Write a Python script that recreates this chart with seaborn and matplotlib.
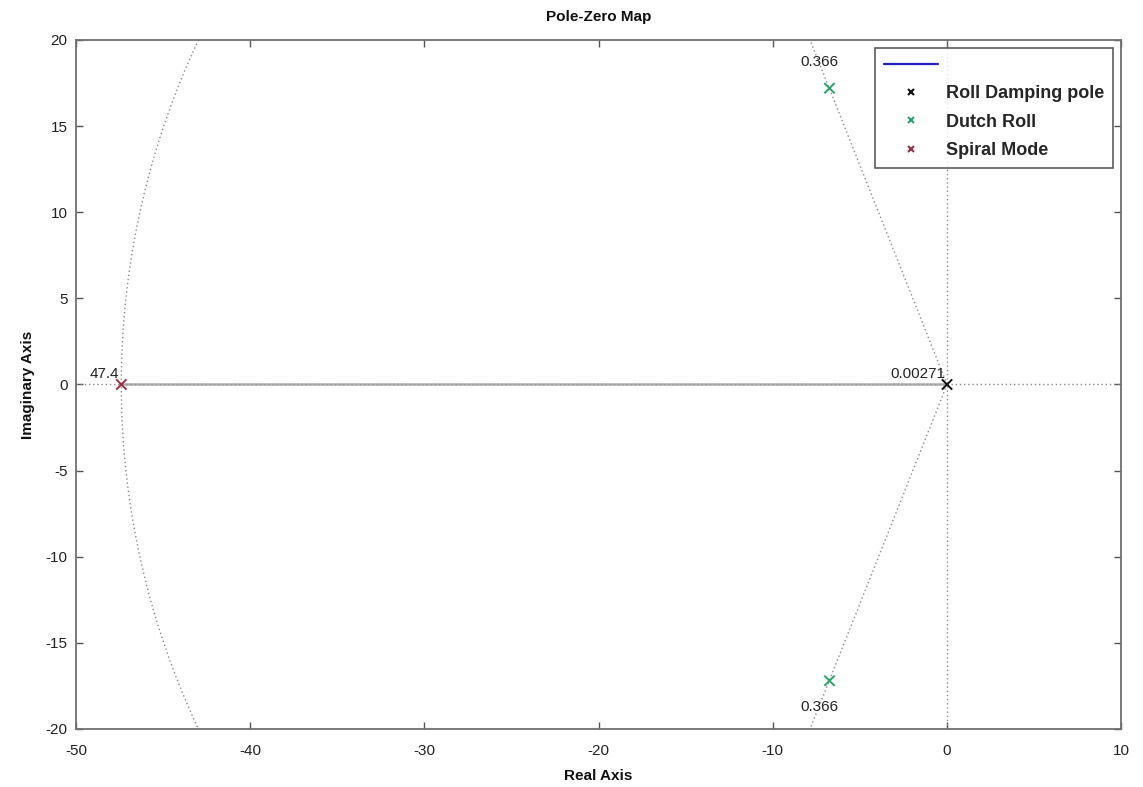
import numpy as np
import pandas as pd
import matplotlib
matplotlib.use("Agg")
import matplotlib.pyplot as plt
from matplotlib.lines import Line2D
import seaborn as sns

# Lateral-directional poles
mode_names = ["Roll Damping pole", "Dutch Roll", "Dutch Roll", "Spiral Mode"]
pole_real = [-0.00271, -6.75, -6.75, -47.4]
pole_imag = [0.0, 17.2, -17.2, 0.0]
mode_colors = {"Roll Damping pole": "#111111",
               "Dutch Roll": "#2aa56a",
               "Spiral Mode": "#9a3048"}

# s-plane grid values
damping_ratio = 0.366
natural_freqs = [47.4, 0.00271]
x_ticks = [-50, -40, -30, -20, -10, 0, 10]
y_ticks = [-20, -15, -10, -5, 0, 5, 10, 15, 20]

df = pd.DataFrame({"mode": mode_names, "re": pole_real, "im": pole_imag})

sns.set_style("white")
plt.rcParams["font.family"] = ["Liberation Sans", "DejaVu Sans"]
plt.rcParams["axes.unicode_minus"] = False

fig = plt.figure(figsize=(11.43, 7.87), dpi=100)
ax = fig.add_axes([0.0665, 0.0737, 0.9145, 0.8755])

grid_kw = dict(color="#8a8a8a", linestyle=(0, (1, 2)), linewidth=1.0, zorder=1)

# constant-damping rays
theta = np.arccos(damping_ratio)
r = np.linspace(0, 80, 200)
ax.plot(-r * np.cos(theta), r * np.sin(theta), **grid_kw)
ax.plot(-r * np.cos(theta), -r * np.sin(theta), **grid_kw)

# constant natural-frequency circles (left half plane)
phi = np.linspace(np.pi / 2, 3 * np.pi / 2, 400)
for wn in natural_freqs:
    ax.plot(wn * np.cos(phi), wn * np.sin(phi), **grid_kw)

# real and imaginary axes
ax.axhline(0, **grid_kw)
ax.axvline(0, **grid_kw)
ax.plot([-natural_freqs[0], 0], [0, 0], color="#9a9a9a", linewidth=1.8,
        alpha=0.8, zorder=1)

sns.scatterplot(data=df, x="re", y="im", hue="mode", palette=mode_colors,
                marker="x", s=55, linewidth=1.4, legend=False, ax=ax, zorder=3)

# grid labels
zeta_x = -18.7 * damping_ratio / np.sqrt(1 - damping_ratio ** 2)
txt_kw = dict(fontsize=11, color="#222222")
ax.text(zeta_x, 18.7, f"{damping_ratio:g}", ha="center", va="center", **txt_kw)
ax.text(zeta_x, -18.7, f"{damping_ratio:g}", ha="center", va="center", **txt_kw)
ax.text(-natural_freqs[0] - 0.1, 0.2, f"{natural_freqs[0]:g}", ha="right",
        va="bottom", **txt_kw)
ax.text(-0.1, 0.2, f"{natural_freqs[1]:g}", ha="right", va="bottom", **txt_kw)

ax.set_xlim(x_ticks[0], x_ticks[-1])
ax.set_ylim(y_ticks[0], y_ticks[-1])
ax.set_xticks(x_ticks)
ax.set_yticks(y_ticks)
ax.tick_params(direction="in", length=5, width=1, colors="#555555",
               labelcolor="#222222", labelsize=11, top=True, right=True,
               bottom=True, left=True, pad=6)
ax.tick_params(axis="x", pad=11)
for sp in ax.spines.values():
    sp.set_color("#707070")
    sp.set_linewidth(1.3)

ax.set_title("Pole-Zero Map", fontsize=11, fontweight="bold", pad=14,
             color="#111111")
ax.set_xlabel("Real Axis", fontsize=11, fontweight="bold", labelpad=8,
              color="#111111")
ax.set_ylabel("Imaginary Axis", fontsize=11, fontweight="bold", labelpad=8,
              color="#111111")

handles = [Line2D([], [], color="#2020c0", linewidth=1.6)]
labels = [""]
for name in ["Roll Damping pole", "Dutch Roll", "Spiral Mode"]:
    handles.append(Line2D([], [], linestyle="none", marker="x",
                          markersize=4, markeredgewidth=1.5,
                          color=mode_colors[name]))
    labels.append(name)
leg = ax.legend(handles, labels, loc="upper right", bbox_to_anchor=(0.992, 0.988),
                borderaxespad=0, frameon=True, fancybox=False,
                edgecolor="#333333", handlelength=3.0, labelspacing=0.62,
                borderpad=0.5, handletextpad=0.4,
                prop={"weight": "bold", "size": 13})
leg.get_frame().set_linewidth(1.2)

fig.savefig("out.png", dpi=100)
